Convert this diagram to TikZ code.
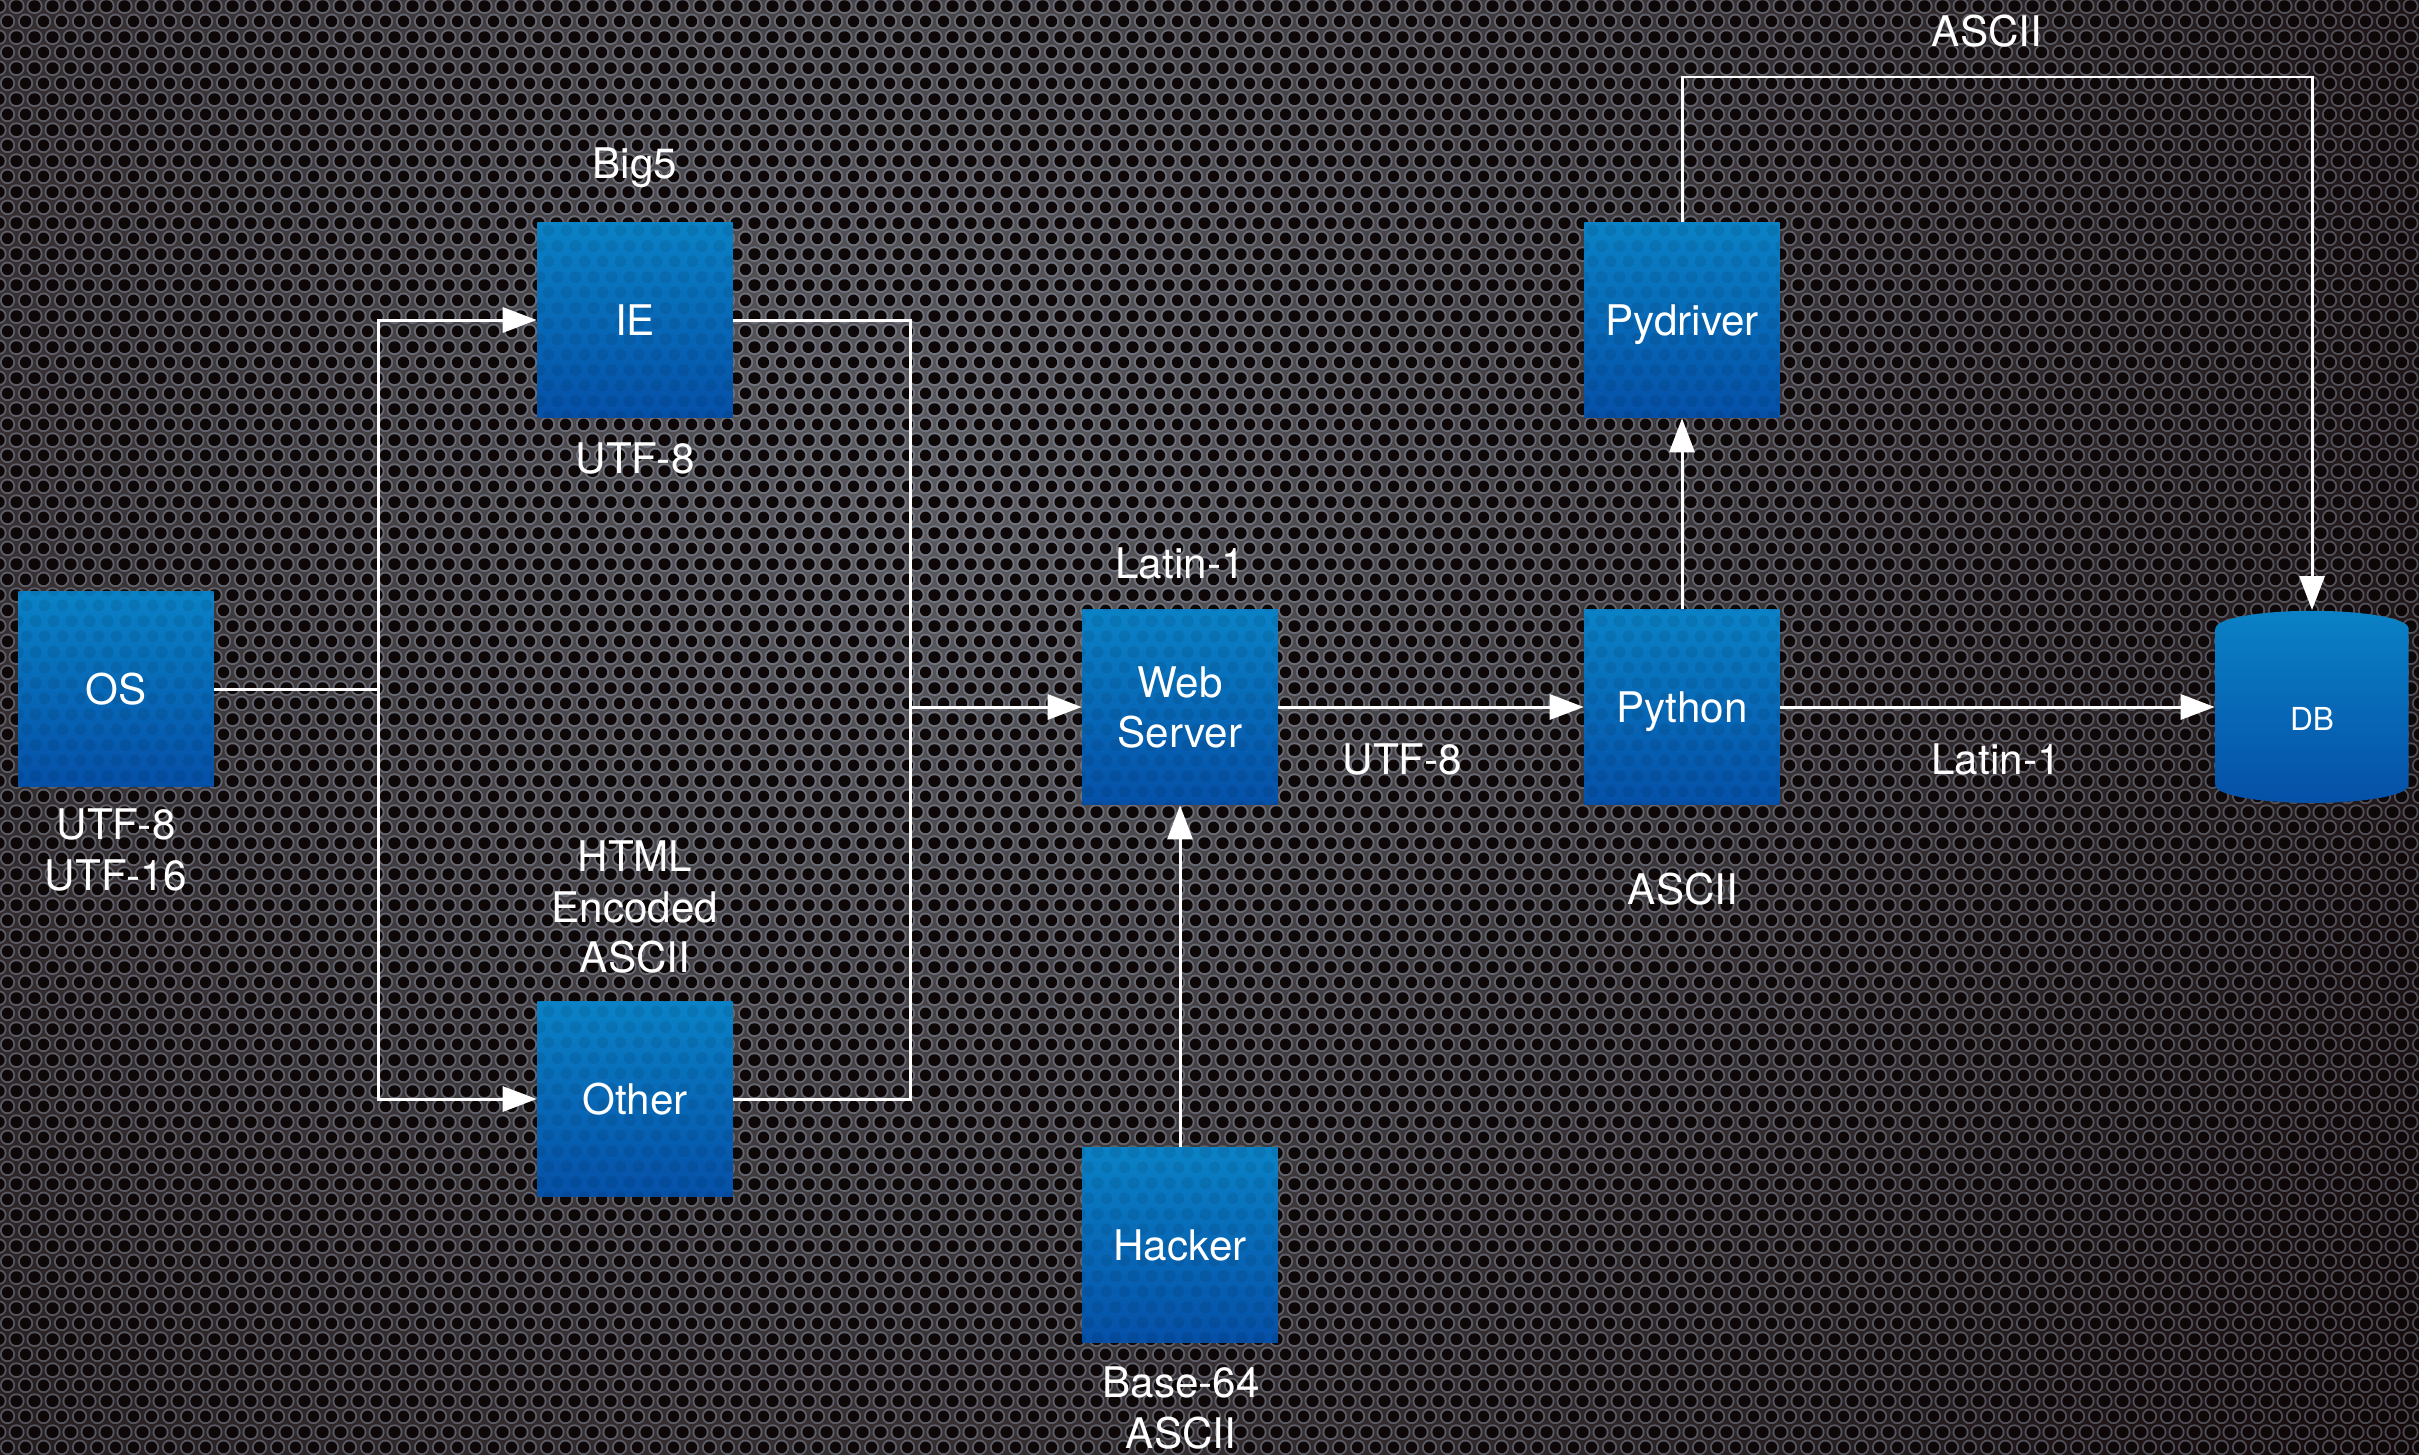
\documentclass[tikz,border=0pt]{standalone}
\usepackage{fontspec}
\setmainfont{TeX Gyre Heros}
\usetikzlibrary{arrows.meta,shapes.geometric,patterns}

\definecolor{sheetlight}{HTML}{5C5C60}
\definecolor{sheetdark}{HTML}{130707}
\definecolor{ringtint}{HTML}{9AA6BE}
\definecolor{holeblack}{HTML}{0E0707}
\definecolor{boxtop}{HTML}{0A82C6}
\definecolor{boxbottom}{HTML}{0550A8}

% perforated sheet: rings and holes on a hex grid
\pgfdeclarepatternformonly{meshrings}{\pgfpointorigin}{\pgfpoint{5.121pt}{8.877pt}}{\pgfpoint{5.121pt}{8.877pt}}{
  \pgfpathcircle{\pgfpoint{2.560pt}{2.219pt}}{2.276pt}
  \pgfpathcircle{\pgfpoint{0pt}{6.658pt}}{2.276pt}
  \pgfpathcircle{\pgfpoint{5.121pt}{6.658pt}}{2.276pt}
  \pgfusepath{fill}
}
\pgfdeclarepatternformonly{meshholes}{\pgfpointorigin}{\pgfpoint{5.121pt}{8.877pt}}{\pgfpoint{5.121pt}{8.877pt}}{
  \pgfpathcircle{\pgfpoint{2.560pt}{2.219pt}}{1.707pt}
  \pgfpathcircle{\pgfpoint{0pt}{6.658pt}}{1.707pt}
  \pgfpathcircle{\pgfpoint{5.121pt}{6.658pt}}{1.707pt}
  \pgfusepath{fill}
}

\begin{document}
\begin{tikzpicture}[x=0.01cm, y=-0.01cm,
    box/.style={rectangle, minimum size=1.95cm, inner sep=0pt, text depth=0pt,
      top color=boxtop, bottom color=boxbottom, text=white, align=center,
      font=\fontsize{12}{14.3}\selectfont,
      postaction={pattern=meshholes, pattern color=black, fill opacity=0.08}},
    store/.style={cylinder, shape border rotate=90, aspect=0.8,
      minimum width=1.93cm, minimum height=1.92cm, inner sep=0pt,
      text height=8.1pt, text depth=0pt,
      top color=boxtop, bottom color=boxbottom, text=white,
      font=\fontsize{9}{11}\selectfont},
    lbl/.style={text=white, align=center, inner sep=0pt,
      font=\fontsize{12}{14.3}\selectfont},
    wire/.style={draw=white, line width=0.85pt},
    flow/.style={wire, -{Triangle[length=3.4mm, width=2.5mm]}},
  ]
        \useasboundingbox (0,0) rectangle (2419,1454);

        % background
        \begin{scope}
            \clip (0,0) rectangle (2419,1454);
            \shade[inner color=sheetlight, outer color=sheetdark] (950,480) circle (1800);
        \end{scope}
        \fill[pattern=meshrings, pattern color=ringtint, fill opacity=0.4] (0,0) rectangle (2419,1454);
        \fill[pattern=meshholes, pattern color=holeblack] (0,0) rectangle (2419,1454);

        \node[box] (OS) at (116,689) {OS};
        \node[box] (IE) at (635,320) {IE};
        \node[box] (Other) at (635,1099) {Other};
        \node[box] (WS) at (1180,707) {Web\\Server};
        \node[box] (Hacker) at (1180,1245) {Hacker};
        \node[box] (Python) at (1682,707) {Python};
        \node[box] (Pydriver) at (1682,320) {Pydriver};
        \node[store] (DB) at (2312,716) {DB};

        \node[lbl] (OSenc) at (116,850) {UTF-8\\UTF-16};
        \node[lbl] (IEin) at (635,168) {Big5};
        \node[lbl] (IEout) at (635,458) {UTF-8};
        \node[lbl] (Otherenc) at (635,907) {HTML\\Encoded\\ASCII};
        \node[lbl] (WSenc) at (1180,563) {Latin-1};
        \node[lbl] (WSPy) at (1402,759) {UTF-8};
        \node[lbl] (Pyenc) at (1683,889) {ASCII};
        \node[lbl] (PyDB) at (1996,759) {Latin-1};
        \node[lbl] (DrvDB) at (1987,31) {ASCII};
        \node[lbl] (Hackenc) at (1181,1408) {Base-64\\ASCII};

        \coordinate (split) at (378,689);
        \coordinate (merge) at (910,707);
        \coordinate (bend) at (1997,77);

        \draw[wire] (OS) -- (split);
        \draw[flow] (split) |- (IE);
        \draw[flow] (split) |- (Other);
        \draw[wire] (IE) -| (merge);
        \draw[wire] (Other) -| (merge);
        \draw[flow] (merge) -- (WS);
        \draw[flow] (WS) -- (Python);
        \draw[flow] (Python) -- (Python -| DB.west);
        \draw[flow] (Hacker) -- (WS);
        \draw[flow] (Python) -- (Pydriver);
        \draw[wire] (Pydriver) |- (bend);
        \draw[flow] (bend) -| (DB);
    \end{tikzpicture}
\end{document}
